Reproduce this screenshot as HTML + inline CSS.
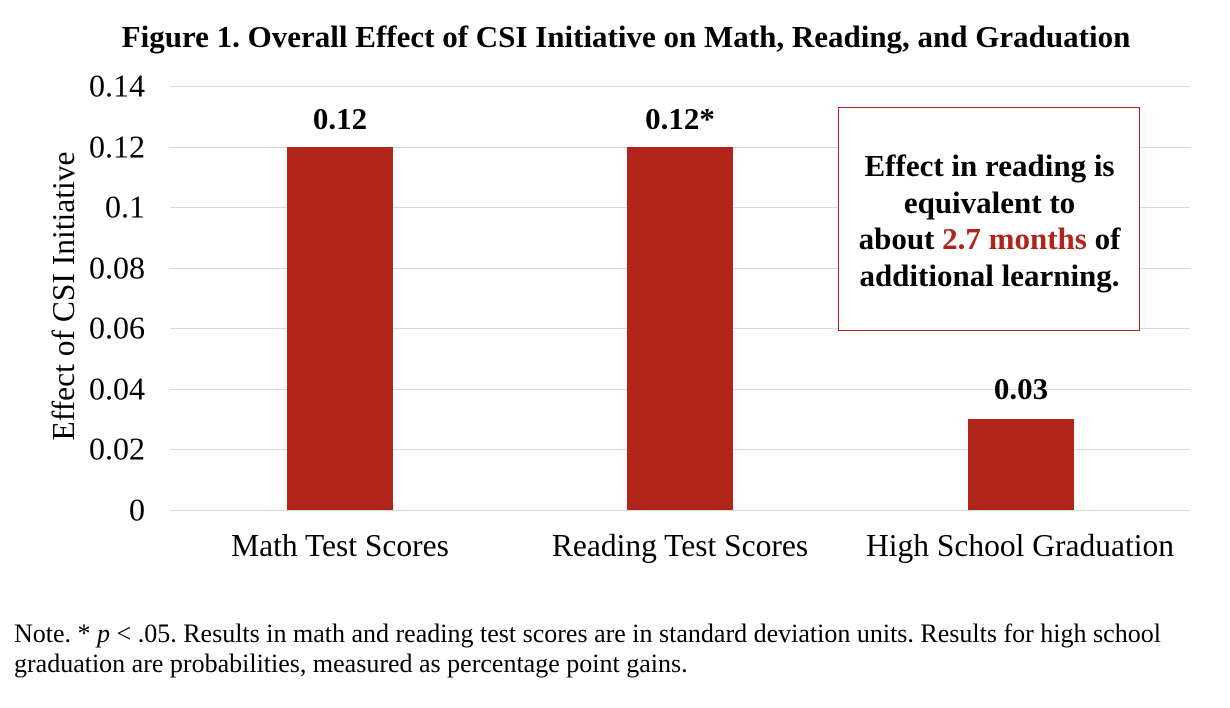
<!DOCTYPE html>
<html><head><style>
body{margin:0;background:#fff;width:1230px;height:708px;overflow:hidden;font-family:"Liberation Serif",serif;position:relative}
.a{position:absolute;white-space:nowrap}
.g{position:absolute;left:170px;width:1020px;height:1px;background:#d9d9d9}
.t{position:absolute;right:1085px;font-size:32px;transform:translateY(-50%)}
.bar{position:absolute;background:#b0241a;width:106px}
.v{position:absolute;font-weight:bold;font-size:31px;width:200px;text-align:center;transform:translateY(-50%)}
.x{position:absolute;font-size:31.5px;width:340px;text-align:center;top:528px}
</style></head><body>
<div class="a" style="left:0;width:1252px;text-align:center;top:19px;font-weight:bold;font-size:31px">Figure 1. Overall Effect of CSI Initiative on Math, Reading, and Graduation</div>
<div class="g" style="top:86px"></div><div class="g" style="top:147px"></div><div class="g" style="top:207px"></div><div class="g" style="top:268px"></div><div class="g" style="top:328px"></div><div class="g" style="top:389px"></div><div class="g" style="top:449px"></div><div class="g" style="top:510px"></div>
<div class="t" style="top:86px">0.14</div><div class="t" style="top:147px">0.12</div><div class="t" style="top:207px">0.1</div><div class="t" style="top:268px">0.08</div><div class="t" style="top:328px">0.06</div><div class="t" style="top:389px">0.04</div><div class="t" style="top:449px">0.02</div><div class="t" style="top:510px">0</div>
<div class="a" style="left:64px;top:296px;font-size:31.5px;transform:translate(-50%,-50%) rotate(-90deg)">Effect of CSI Initiative</div>
<div class="bar" style="left:287px;top:147px;height:363px"></div>
<div class="bar" style="left:627px;top:147px;height:363px"></div>
<div class="bar" style="left:968px;top:419px;height:91px"></div>
<div class="v" style="left:240px;top:119px">0.12</div>
<div class="v" style="left:580px;top:119px">0.12*</div>
<div class="v" style="left:921px;top:389px">0.03</div>
<div class="x" style="left:170px">Math Test Scores</div>
<div class="x" style="left:510px">Reading Test Scores</div>
<div class="x" style="left:850px">High School Graduation</div>
<div class="a" style="left:838px;top:107px;width:300px;height:222px;border:1.5px solid #b0241a;background:#fff"></div>
<div class="a" style="left:838px;top:148px;width:303px;text-align:center;font-weight:bold;font-size:31px;line-height:36.5px">Effect in reading is<br>equivalent to<br>about <span style="color:#b0241a">2.7 months</span> of<br>additional learning.</div>
<div class="a" style="left:14px;top:619px;font-size:26px;line-height:30px">Note. * <i>p</i> &lt; .05. Results in math and reading test scores are in standard deviation units. Results for high school<br>graduation are probabilities, measured as percentage point gains.</div>
</body></html>
